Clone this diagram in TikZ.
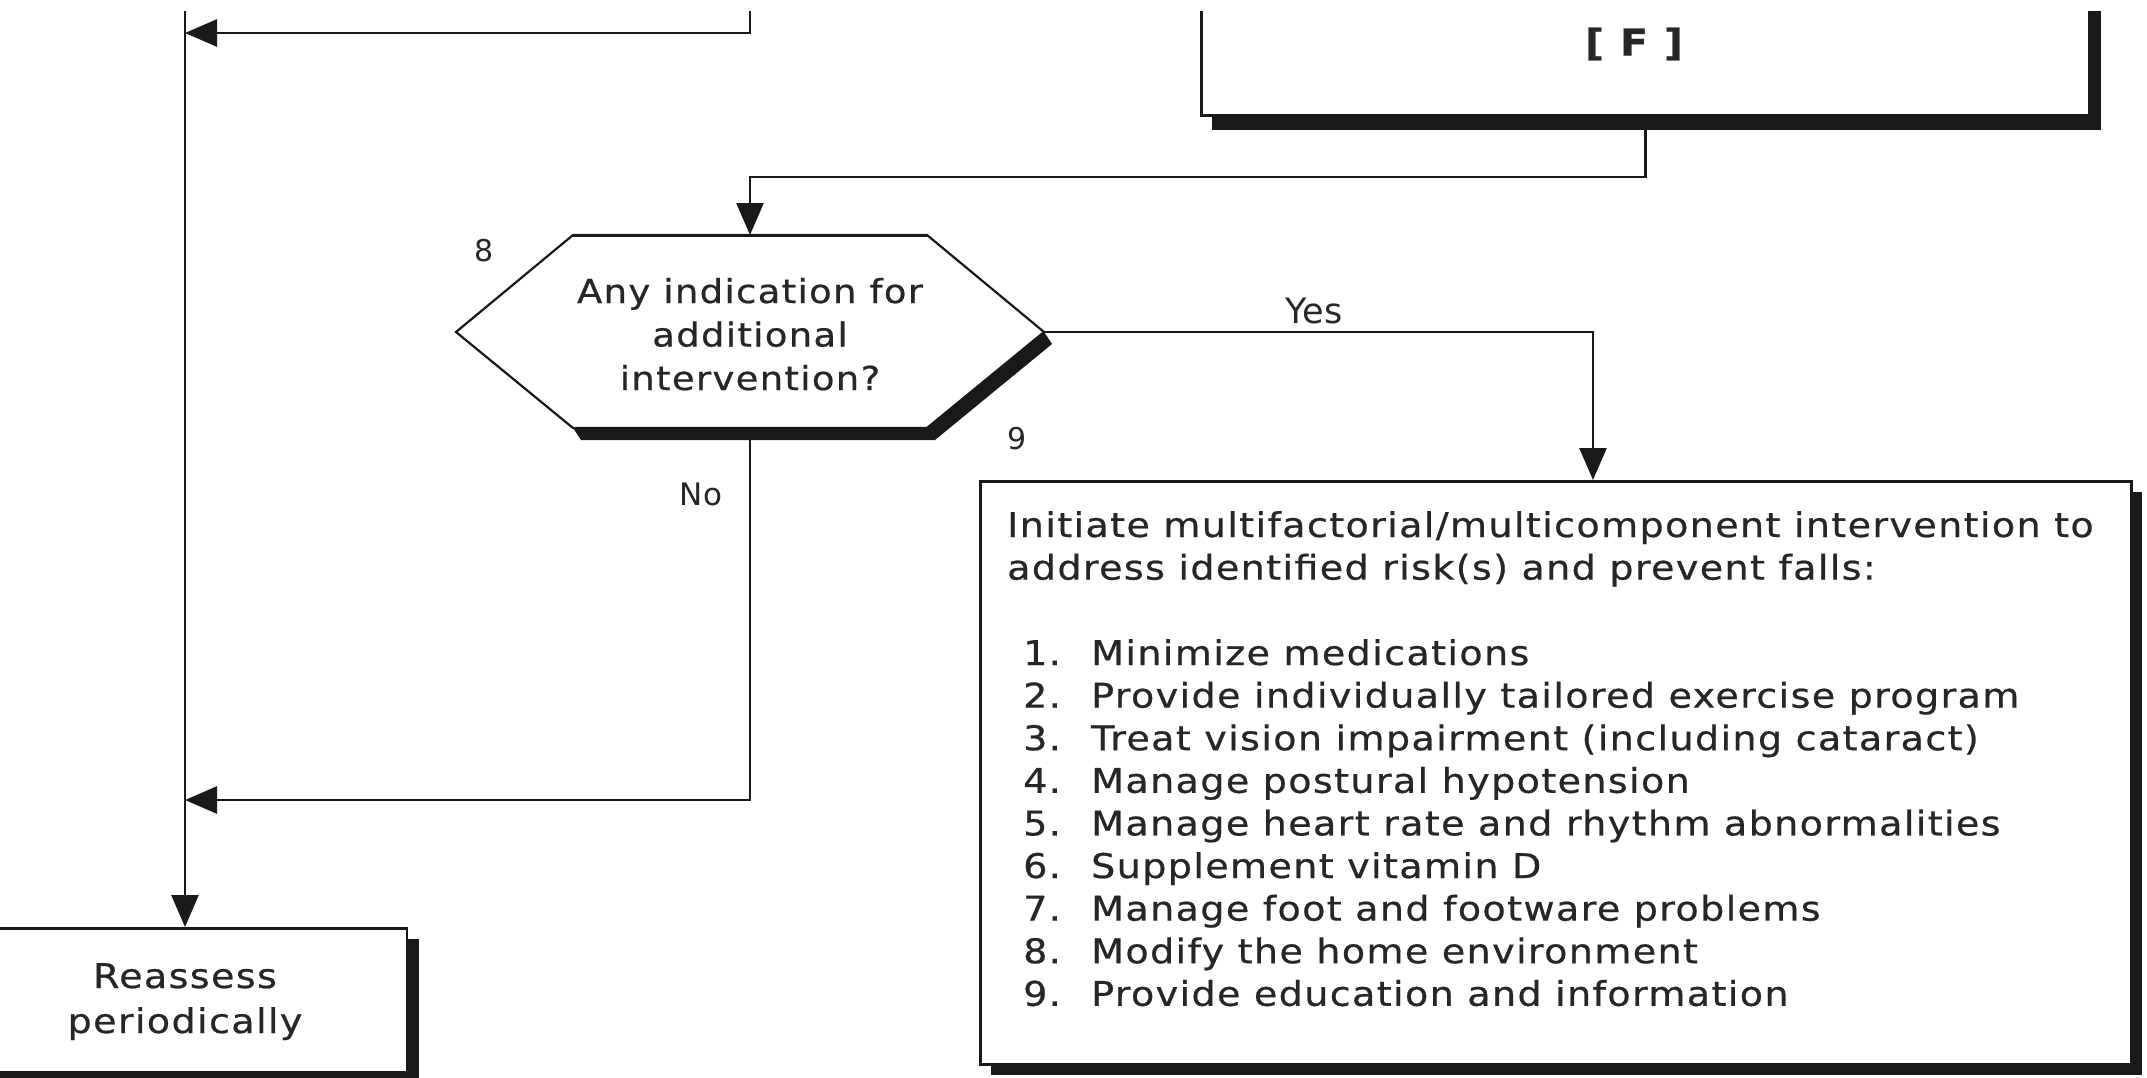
\documentclass[tikz,border=0pt]{standalone}
\usepackage{fontspec}
\setmainfont{DejaVu Sans}
\newfontfamily\spfont{DejaVu Sans}[FakeStretch=1.12, LetterSpace=4, FakeBold=0.6]
\usetikzlibrary{arrows.meta}
\begin{document}
\begin{tikzpicture}[x=1pt,y=-1pt,
  line/.style={line width=2.7pt, draw=black!90},
  arr/.style={line, -{Triangle[length=32pt,width=27pt]}},
  box/.style={draw=black!90, line width=2.8pt, fill=white, rectangle, inner sep=0pt},
  shadow/.style={fill=black!90, draw=none},
  txt/.style={inner sep=0pt, text=black!85},
  lbl/.style={inner sep=0pt, text=black!85}
]
\useasboundingbox (0,0) rectangle (2147,1077);
\begin{scope}
\clip (0,11) rectangle (2147,1077);
% F box (top part outside the picture)
\fill[shadow] (1212,-100) rectangle (2101,130);
\node[box, minimum width=888pt, minimum height=217pt, anchor=south west] (fbox) at (1200,117) {};
\node[lbl, font=\spfont\bfseries\fontsize{37}{42}\selectfont] (ftxt) at (1634,44) {[ F ]};
% hexagon 8
\coordinate (hexL) at (456,332);
\coordinate (hexTL) at (573,235);
\coordinate (hexTR) at (927,235);
\coordinate (hexR) at (1044,332);
\coordinate (hexBR) at (927,428);
\coordinate (hexBL) at (573,428);
\coordinate (hexT) at (750,235);
\coordinate (hexB) at (750,428);
\fill[shadow] (573,428) -- (581,440) -- (935,440) -- (1052,344) -- (1044,332) -- (927,428) -- cycle;
\draw[line width=2.2pt, draw=black!90, fill=white] (hexL) -- (hexTL) -- (hexTR) -- (hexR) -- (hexBR) -- (hexBL) -- cycle;
\draw[line width=3pt, draw=black!90] (hexTL) -- (hexTR);
\node[txt, anchor=base, font=\spfont\fontsize{33}{43.5}\selectfont] (hextxt) at (750,303)
  {\begin{tabular}[t]{@{}c@{}}Any indication for\\additional\\intervention?\end{tabular}};
% box 9
\fill[shadow] (991,492) rectangle (2142,1075);
\node[box, minimum width=1151pt, minimum height=583pt, anchor=north west] (box9) at (979,480) {};
\node[txt, anchor=base west, font=\spfont\fontsize{34}{42.6}\selectfont] (b9head) at (1007,537)
  {\begin{tabular}[t]{@{}l@{}}Initiate multifactorial/multicomponent intervention to\\address identified risk(s) and prevent falls:\end{tabular}};
\node[txt, anchor=base west, font=\spfont\fontsize{34}{42.6}\selectfont] (b9list) at (1023,665)
  {\begin{tabular}[t]{@{}l@{}}
  \makebox[68pt][l]{1.}Minimize medications\\
  \makebox[68pt][l]{2.}Provide individually tailored exercise program\\
  \makebox[68pt][l]{3.}Treat vision impairment (including cataract)\\
  \makebox[68pt][l]{4.}Manage postural hypotension\\
  \makebox[68pt][l]{5.}Manage heart rate and rhythm abnormalities\\
  \makebox[68pt][l]{6.}Supplement vitamin D\\
  \makebox[68pt][l]{7.}Manage foot and footware problems\\
  \makebox[68pt][l]{8.}Modify the home environment\\
  \makebox[68pt][l]{9.}Provide education and information
  \end{tabular}};
% Reassess box
\fill[shadow] (-25,939) rectangle (419,1083);
\node[box, minimum width=444pt, minimum height=144pt, anchor=north] (reass) at (185,927) {};
\node[txt, anchor=base, font=\spfont\fontsize{34}{45}\selectfont] (reasstxt) at (185,988)
  {\begin{tabular}[t]{@{}c@{}}Reassess\\periodically\end{tabular}};
% connectors
\coordinate (topL) at (185,11);
\coordinate (topR) at (750,11);
\coordinate (j1) at (185,33);
\coordinate (j2) at (185,800);
\coordinate (yesT) at (1593,332);
\draw[arr] (topR) |- (j1);
\draw[arr] (topL) -- (reass.north);
\draw[arr] (fbox.south) -- ++(0,60) -| (hexT);
\draw[arr] (hexR) -- (yesT) -- (yesT |- box9.north);
\draw[arr] (hexB) |- (j2);
% labels
\node[lbl, anchor=base, font=\fontsize{35}{40}\selectfont] (yes) at (1314,323) {Yes};
\node[lbl, anchor=base, font=\fontsize{31}{36}\selectfont] (no) at (701,505) {No};
\node[lbl, font=\fontsize{30}{34}\selectfont] (n8) at (484,251) {8};
\node[lbl, font=\fontsize{30}{34}\selectfont] (n9) at (1017,439) {9};
\end{scope}
\end{tikzpicture}
\end{document}
